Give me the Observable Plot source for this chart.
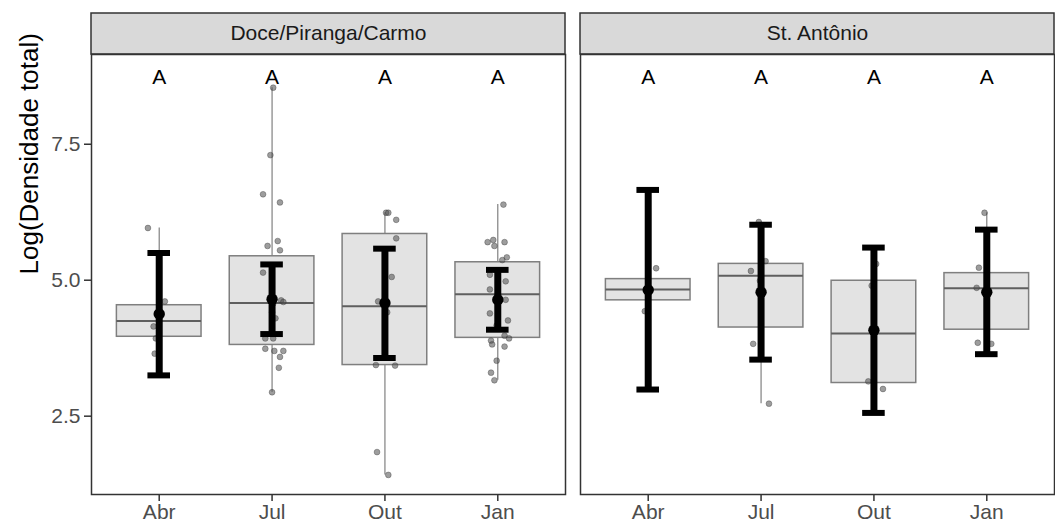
<!DOCTYPE html>
<html>
<head>
<meta charset="utf-8">
<script src="https://cdn.jsdelivr.net/npm/d3@7"></script>
<script src="https://cdn.jsdelivr.net/npm/@observablehq/plot@0.6"></script>
<style>
  html, body { margin: 0; padding: 0; background: white; }
</style>
</head>
<body>
<div id="chart"></div>
<script>
// ---------- data ----------
const panels = ["Doce/Piranga/Carmo", "St. Antônio"];
const months = ["Abr", "Jul", "Out", "Jan"];
const yTicks = [2.5, 5.0, 7.5];
const yLabel = "Log(Densidade total)";

// boxplot statistics [panel][month]
const whiskerLow  = [[3.65, 2.94, 1.42, 3.16], [4.43, 2.73, 3.00, 3.83]];
const q1          = [[3.96, 3.81, 3.44, 3.94], [4.63, 4.13, 3.11, 4.09]];
const median      = [[4.25, 4.58, 4.52, 4.74], [4.83, 5.08, 4.02, 4.85]];
const q3          = [[4.54, 5.44, 5.85, 5.33], [5.02, 5.30, 4.99, 5.13]];
const whiskerHigh = [[5.96, 8.54, 6.24, 6.39], [5.22, 6.07, 5.30, 6.24]];

// mean and error bars [panel][month]
const mean   = [[4.38, 4.65, 4.58, 4.64], [4.82, 4.78, 4.08, 4.78]];
const ciLow  = [[3.25, 4.01, 3.57, 4.09], [2.99, 3.54, 2.56, 3.64]];
const ciHigh = [[5.50, 5.29, 5.58, 5.19], [6.66, 6.02, 5.60, 5.93]];

// significance letters [panel][month]
const letters = [["A", "A", "A", "A"], ["A", "A", "A", "A"]];

// raw observations [panel][month] and their horizontal jitter (in category units)
const pointValues = [
  [
    [5.96, 4.61, 4.35, 4.15, 3.93, 3.65],
    [8.54, 7.30, 6.58, 6.43, 5.72, 5.63, 5.55, 5.14, 4.63, 4.60, 4.57, 4.41, 4.30, 3.93, 3.93, 3.74, 3.70, 3.70, 3.59, 3.39, 2.94],
    [6.24, 6.24, 6.11, 5.77, 5.06, 4.61, 4.41, 3.44, 3.43, 1.84, 1.42],
    [6.39, 5.74, 5.70, 5.70, 5.63, 5.42, 5.37, 5.10, 4.98, 4.83, 4.64, 4.39, 4.26, 4.17, 3.98, 3.93, 3.89, 3.82, 3.78, 3.52, 3.30, 3.16]
  ],
  [
    [5.22, 4.83, 4.43],
    [6.07, 5.35, 5.17, 4.99, 3.83, 2.73],
    [5.30, 4.90, 3.14, 3.00],
    [6.24, 5.23, 4.86, 4.84, 3.85, 3.83]
  ]
];
const pointJitter = [
  [
    [-0.10, 0.05, 0.00, -0.05, -0.03, -0.04],
    [0.01, -0.015, -0.08, 0.07, 0.05, -0.04, 0.07, -0.08, 0.08, 0.10, 0.01, 0.00, 0.03, -0.06, 0.01, -0.06, 0.02, 0.10, 0.07, 0.06, 0.00],
    [0.01, 0.03, 0.10, 0.10, 0.06, -0.06, 0.02, -0.08, 0.09, -0.07, 0.03],
    [0.05, -0.04, -0.09, 0.06, -0.03, 0.08, 0.04, -0.07, 0.07, -0.07, 0.07, -0.07, 0.09, -0.01, 0.06, 0.10, -0.06, -0.05, 0.06, -0.01, -0.06, -0.03]
  ],
  [
    [0.07, 0.00, -0.03],
    [-0.02, 0.04, -0.09, -0.01, -0.07, 0.07],
    [0.02, -0.02, -0.05, 0.08],
    [-0.02, -0.07, -0.09, 0.00, -0.08, 0.04]
  ]
];

// ---------- tables built from the arrays ----------
const groups = [];
const points = [];
panels.forEach((panel, p) => {
  months.forEach((m, i) => {
    groups.push({
      panel, i,
      lo: whiskerLow[p][i], q1: q1[p][i], med: median[p][i], q3: q3[p][i], hi: whiskerHigh[p][i],
      mean: mean[p][i], ciLo: ciLow[p][i], ciHi: ciHigh[p][i], letter: letters[p][i]
    });
    pointValues[p][i].forEach((v, k) => {
      points.push({panel, x: i + pointJitter[p][i][k], y: v});
    });
  });
});

const xDomain = [-0.6, 3.6];
const yDomain = [1.06, 9.15];
const boxHalf = 0.375;
const capHalf = 0.1;

const chart = Plot.plot({
  width: 1055,
  height: 525,
  marginTop: 54,
  marginBottom: 31,
  marginLeft: 90,
  marginRight: 1,
  style: {fontFamily: "'Liberation Sans', Arial, Helvetica, sans-serif", background: "white"},
  fx: {domain: panels, paddingInner: 0.031, paddingOuter: 0, axis: null, label: null},
  x: {domain: xDomain, axis: null},
  y: {domain: yDomain, axis: null},
  marks: [
    // strip backgrounds
    Plot.rect(panels, {fx: d => d, x1: xDomain[0], x2: xDomain[1], y1: yDomain[1], y2: yDomain[1],
      insetTop: -41, fill: "#d9d9d9", stroke: "#333333", strokeWidth: 1.5}),
    Plot.text(panels, {fx: d => d, text: d => d, frameAnchor: "top", lineAnchor: "middle", dy: -21,
      fontSize: 21, fill: "#1a1a1a"}),
    // whiskers
    Plot.ruleX(groups, {fx: "panel", x: "i", y1: "q3", y2: "hi", stroke: "#808080", strokeWidth: 1.2}),
    Plot.ruleX(groups, {fx: "panel", x: "i", y1: "lo", y2: "q1", stroke: "#808080", strokeWidth: 1.2}),
    // boxes
    Plot.rect(groups, {fx: "panel", x1: d => d.i - boxHalf, x2: d => d.i + boxHalf, y1: "q1", y2: "q3",
      fill: "#e3e3e3", stroke: "#7f7f7f", strokeWidth: 1.5}),
    Plot.ruleY(groups, {fx: "panel", y: "med", x1: d => d.i - boxHalf, x2: d => d.i + boxHalf,
      stroke: "#5f5f5f", strokeWidth: 2}),
    // jittered observations
    Plot.dot(points, {fx: "panel", x: "x", y: "y", r: 2.9, fill: "#4d4d4d", fillOpacity: 0.55,
      stroke: "#333333", strokeOpacity: 0.45, strokeWidth: 0.8}),
    // error bars
    Plot.ruleX(groups, {fx: "panel", x: "i", y1: "ciLo", y2: "ciHi", stroke: "black", strokeWidth: 7}),
    Plot.ruleY(groups, {fx: "panel", y: "ciLo", x1: d => d.i - capHalf, x2: d => d.i + capHalf,
      stroke: "black", strokeWidth: 6}),
    Plot.ruleY(groups, {fx: "panel", y: "ciHi", x1: d => d.i - capHalf, x2: d => d.i + capHalf,
      stroke: "black", strokeWidth: 6}),
    Plot.dot(groups, {fx: "panel", x: "i", y: "mean", r: 5.7, fill: "black"}),
    // letters
    Plot.text(groups, {fx: "panel", x: "i", text: "letter", frameAnchor: "top", lineAnchor: "middle", dy: 23,
      fontSize: 21, fill: "black"}),
    // panel border
    Plot.frame({stroke: "#333333", strokeWidth: 1.5}),
    // axes
    Plot.axisY(yTicks, {tickFormat: d3.format(".1f"), tickSize: 7, tickPadding: 4, fontSize: 21,
      stroke: "#333333", fill: "#4d4d4d", strokeWidth: 1.5, label: null}),
    Plot.axisX([0, 1, 2, 3], {tickFormat: i => months[i], tickSize: 7, tickPadding: 3, fontSize: 21,
      stroke: "#333333", fill: "#4d4d4d", strokeWidth: 1.5, label: null}),
    Plot.text([yLabel], {fx: () => panels[0], text: d => d, frameAnchor: "left", dx: -62, rotate: -90,
      fontSize: 26, fill: "black"})
  ]
});
document.getElementById("chart").appendChild(chart);
</script>
</body>
</html>
